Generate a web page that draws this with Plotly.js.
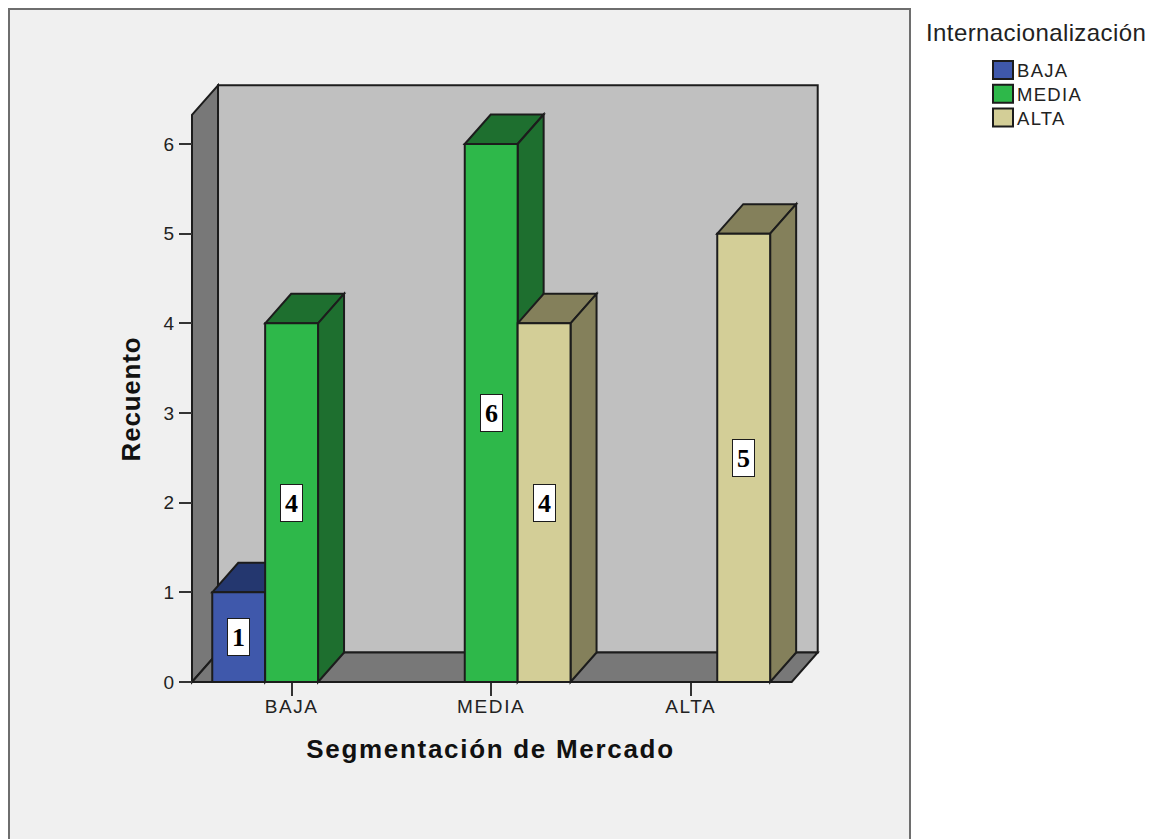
<!DOCTYPE html>
<html>
<head>
<meta charset="utf-8">
<script src="https://cdn.plot.ly/plotly-3.0.1.min.js"></script>
<style>
  html, body { margin: 0; padding: 0; background: #fff; overflow: hidden; }
  #chart { width: 1157px; height: 839px; }
  .xtick text { letter-spacing: 1.6px; }
  .ytick text { letter-spacing: 1px; }
  .legendtext { letter-spacing: 1.3px; font-size: 18.5px !important; }
  .g-xtitle text { letter-spacing: 1.7px; }
  .g-ytitle text { letter-spacing: 0.8px; }
  .annotation[data-index="0"] text { letter-spacing: 0.4px; }
  .legend .legendbar path, .legend .legendpoints path.legendundefined { d: path("M16,8H-4V-10H16Z"); }
</style>
</head>
<body>
<div id="chart"></div>
<script>
// Count of companies by market segment, split by internationalisation level
const categories = ['BAJA', 'MEDIA', 'ALTA'];
const seriesNames = ['BAJA', 'MEDIA', 'ALTA'];
const bajaValues = [1, null, null];
const mediaValues = [4, 6, null];
const altaValues = [null, 4, 5];
const allValues = [bajaValues, mediaValues, altaValues];
const frontColors = ['#3F58AB', '#2EB84A', '#D3CE97'];
const shadeColors = ['#24376F', '#1E6F2F', '#84805B'];
const yTicks = [0, 1, 2, 3, 4, 5, 6];

const W = 1157, H = 839;
const px = { left: 160, right: 821, top: 78, bottom: 720, zeroY: 682, catStep: 199.6, cat0: 291.6, unitY: 89.67 };
const barWidth = 0.265;
const depthX = 26 / px.catStep;
const depthY = 29.5 / px.unitY;
const ink = '#1c1c1c';

const xRange = [(px.left - px.cat0) / px.catStep, (px.right - px.cat0) / px.catStep];
const yRange = [(px.zeroY - px.bottom) / px.unitY, (px.zeroY - px.top) / px.unitY];

// Box extents of the pseudo-3D stage, in axis units
const stageLeft = -0.499, stageRight = 2.5055, stageTop = 6.325;

const edge = { color: ink, width: 2 };
const face = (path, fill) => ({ type: 'path', xref: 'x', yref: 'y', layer: 'below', path, fillcolor: fill, line: edge });
const poly = pts => 'M' + pts.map(p => p[0].toFixed(4) + ',' + p[1].toFixed(4)).join('L') + 'Z';

const shapes = [
  { type: 'rect', xref: 'paper', yref: 'paper', layer: 'below', x0: 9 / W, x1: 910 / W, y0: -0.05, y1: 1 - 9 / H,
    fillcolor: '#F0F0F0', line: { color: '#6E6E6E', width: 2 } },
  face(poly([[stageLeft + depthX, depthY], [stageRight + depthX, depthY], [stageRight + depthX, stageTop + depthY], [stageLeft + depthX, stageTop + depthY]]), '#C0C0C0'),
  face(poly([[stageLeft, 0], [stageLeft + depthX, depthY], [stageLeft + depthX, stageTop + depthY], [stageLeft, stageTop]]), '#787878'),
  face(poly([[stageLeft, 0], [stageRight, 0], [stageRight + depthX, depthY], [stageLeft + depthX, depthY]]), '#787878')
];

const annotations = [{
  xref: 'paper', yref: 'paper', x: 928 / W, y: 1 - 33 / H, xanchor: 'left', yanchor: 'middle', showarrow: false,
  text: 'Internacionalización', font: { family: 'Liberation Sans', size: 24, color: '#222' }
}];

// Top and side faces come from each bar's value; labels sit at half height
allValues.forEach((vals, s) => {
  vals.forEach((v, c) => {
    if (v === null) return;
    const l = c + (s - 1) * barWidth - barWidth / 2;
    const r = l + barWidth;
    shapes.push(face(poly([[l, v], [l + depthX, v + depthY], [r + depthX, v + depthY], [r, v]]), shadeColors[s]));
    shapes.push(face(poly([[r, 0], [r + depthX, depthY], [r + depthX, v + depthY], [r, v]]), shadeColors[s]));
    annotations.push({
      xref: 'x', yref: 'y', x: c + (s - 1) * barWidth, y: v / 2, showarrow: false,
      text: '<b>' + v + '</b>', width: 21, height: 36, bgcolor: '#FFFFFF', bordercolor: ink, borderwidth: 1, borderpad: 0,
      font: { family: 'Liberation Serif', size: 26, color: '#000' }
    });
  });
});

const traces = allValues.map((vals, s) => ({
  type: 'bar', name: seriesNames[s], x: categories, y: vals, legendgroup: seriesNames[s],
  marker: { color: frontColors[s], line: { color: ink, width: 2 } }, hoverinfo: 'x+y+name'
}));

const layout = {
  width: W, height: H, margin: { l: 0, r: 0, t: 0, b: 0 },
  paper_bgcolor: '#FFFFFF', plot_bgcolor: 'rgba(0,0,0,0)',
  barmode: 'group', bargap: 1 - 3 * barWidth, bargroupgap: 0,
  xaxis: {
    type: 'category', categoryorder: 'array', categoryarray: categories,
    domain: [px.left / W, px.right / W], range: xRange, anchor: 'free', position: 1 - px.zeroY / H,
    showgrid: false, zeroline: false, showline: false, ticks: 'outside', ticklen: 13, tickwidth: 2, tickcolor: '#333',
    ticklabelstandoff: -6,
    tickfont: { family: 'Liberation Sans', size: 19, color: '#222' },
    title: { text: 'Segmentación de Mercado', standoff: 24, font: { family: 'Liberation Sans', size: 26, weight: 700, color: '#111' } }
  },
  yaxis: {
    domain: [1 - px.bottom / H, 1 - px.top / H], range: yRange, anchor: 'free', position: 192 / W,
    tickmode: 'array', tickvals: yTicks, showgrid: false, zeroline: false, showline: false,
    ticks: 'outside', ticklen: 13, tickwidth: 2, tickcolor: '#333',
    tickfont: { family: 'Liberation Sans', size: 19, color: '#222' },
    title: { text: 'Recuento', standoff: 14, font: { family: 'Liberation Sans', size: 26, weight: 700, color: '#111' } }
  },
  legend: {
    x: 977 / W, y: 1 - 54 / H, xanchor: 'left', yanchor: 'top', traceorder: 'grouped', tracegroupgap: 0,
    bgcolor: 'rgba(0,0,0,0)', font: { family: 'Liberation Sans', size: 16, color: '#222' }
  },
  showlegend: true, shapes, annotations
};

Plotly.newPlot('chart', traces, layout, { displayModeBar: false, staticPlot: true });
</script>
</body>
</html>
